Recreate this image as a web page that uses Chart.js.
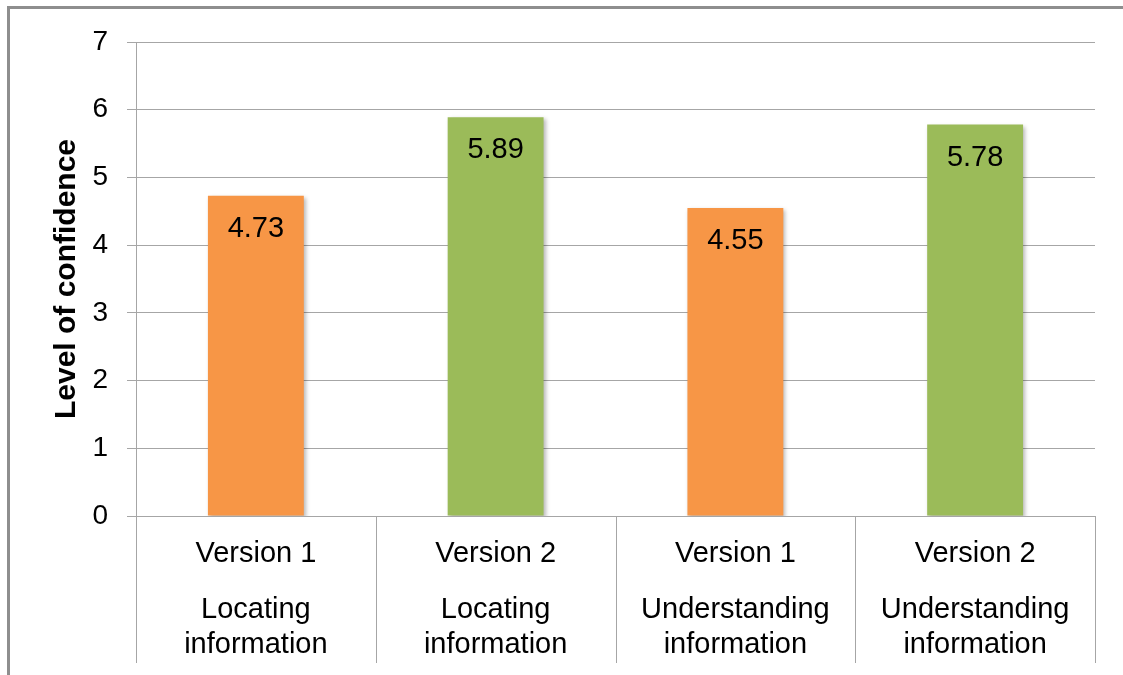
<!DOCTYPE html>
<html>
<head>
<meta charset="utf-8">
<title>Level of confidence</title>
<script src="https://cdn.jsdelivr.net/npm/chart.js@4/dist/chart.umd.min.js"></script>
<style>
  html, body { margin: 0; padding: 0; background: #fff; overflow: hidden; }
  #wrap { position: relative; width: 1123px; height: 675px; }
  #frame { position: absolute; left: 7px; top: 6px; width: 1140px; height: 700px;
           border: 3px solid #8e8e8e; pointer-events: none; box-sizing: border-box; }
  canvas { display: block; }
</style>
</head>
<body>
<div id="wrap">
  <canvas id="c" width="1123" height="675"></canvas>
  <div id="frame"></div>
</div>
<script>
// Bars: one per version and task
const versions = ['Version 1', 'Version 2', 'Version 1', 'Version 2'];
const tasks = [
  ['Locating', 'information'],
  ['Locating', 'information'],
  ['Understanding', 'information'],
  ['Understanding', 'information']
];
const confidence = [4.73, 5.89, 4.55, 5.78];
const barColors = ['#F79646', '#9BBB59', '#F79646', '#9BBB59'];
const yMin = 0;
const yMax = 7;
const yStep = 1;

const FONT = '"Liberation Sans", Arial, sans-serif';
const GRID = '#a6a6a6';
Chart.defaults.font.family = FONT;
Chart.defaults.color = '#000';

// Soft drop shadow under the bars
const barShadow = {
  id: 'barShadow',
  beforeDatasetsDraw(chart) {
    const ctx = chart.ctx;
    ctx.save();
    ctx.shadowColor = 'rgba(0,0,0,0.28)';
    ctx.shadowBlur = 4;
    ctx.shadowOffsetX = 2;
    ctx.shadowOffsetY = 2;
  },
  afterDatasetsDraw(chart) {
    chart.ctx.restore();
  }
};

// Value written inside the top of each bar
const valueLabels = {
  id: 'valueLabels',
  afterDatasetsDraw(chart) {
    const ctx = chart.ctx;
    const meta = chart.getDatasetMeta(0);
    const data = chart.data.datasets[0].data;
    ctx.save();
    ctx.shadowColor = 'transparent';
    ctx.font = '29px ' + FONT;
    ctx.fillStyle = '#000';
    ctx.textAlign = 'center';
    ctx.textBaseline = 'alphabetic';
    meta.data.forEach((bar, i) => {
      ctx.fillText(data[i].toFixed(2), bar.x, bar.y + 41);
    });
    ctx.restore();
  }
};

// Vertical dividers between the category columns below the plot
const dividers = {
  id: 'dividers',
  afterDraw(chart) {
    const x = chart.scales.x;
    const x2 = chart.scales.x2;
    const n = x.getLabels().length;
    const step = x.getPixelForValue(1) - x.getPixelForValue(0);
    const start = x.getPixelForValue(0) - step / 2;
    const ctx = chart.ctx;
    ctx.save();
    ctx.strokeStyle = GRID;
    ctx.lineWidth = 1;
    ctx.beginPath();
    for (let i = 0; i <= n; i++) {
      const px = Math.round(start + i * step) + 0.5;
      ctx.moveTo(px, chart.chartArea.bottom);
      ctx.lineTo(px, x2.bottom);
    }
    ctx.stroke();
    ctx.restore();
  }
};

new Chart(document.getElementById('c'), {
  type: 'bar',
  data: {
    labels: versions,
    datasets: [{
      data: confidence,
      backgroundColor: barColors,
      borderWidth: 0,
      categoryPercentage: 1.0,
      barPercentage: 0.4
    }]
  },
  options: {
    responsive: false,
    animation: false,
    layout: { padding: { left: 0, right: 28, top: 42, bottom: 12 } },
    plugins: {
      legend: { display: false },
      tooltip: { enabled: false }
    },
    scales: {
      y: {
        min: yMin,
        max: yMax,
        ticks: { stepSize: yStep, padding: 19, font: { size: 28 }, color: '#000' },
        grid: { color: GRID, lineWidth: 1, tickLength: 9, tickColor: GRID },
        border: { display: true, color: GRID, width: 1 },
        title: {
          display: true,
          text: 'Level of confidence',
          color: '#000',
          font: { size: 30, weight: 'bold' },
          padding: { top: 49, bottom: 0 }
        },
        afterFit(scale) { scale.width = 136; }
      },
      x: {
        type: 'category',
        offset: true,
        grid: { display: false, drawTicks: false, offset: true },
        border: { display: false },
        ticks: { font: { size: 29 }, padding: 21, color: '#000', maxRotation: 0, autoSkip: false },
        afterFit(scale) { scale.height = 72; }
      },
      x2: {
        type: 'category',
        position: 'bottom',
        labels: tasks,
        offset: true,
        grid: { display: false, drawTicks: false, offset: true },
        border: { display: false },
        ticks: { font: { size: 29, lineHeight: 1.2 }, padding: 5, color: '#000', maxRotation: 0, autoSkip: false },
        afterFit(scale) { scale.height = 75; }
      }
    }
  },
  plugins: [barShadow, valueLabels, dividers]
});
</script>
</body>
</html>
